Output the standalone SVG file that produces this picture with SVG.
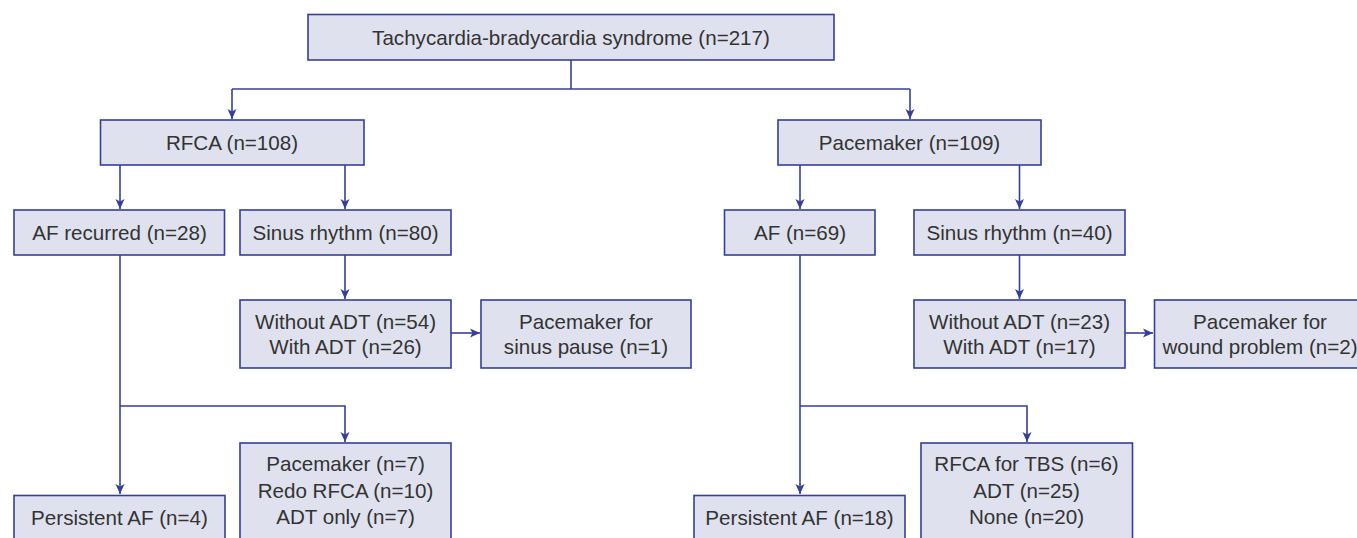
<svg xmlns="http://www.w3.org/2000/svg" width="1357" height="538" viewBox="0 0 1357 538">
<defs>
<marker id="ah" viewBox="0 0 10 10" refX="10" refY="5" markerWidth="10" markerHeight="10" markerUnits="userSpaceOnUse" orient="auto">
<path d="M0,0.5 L10,5 L0,9.5 L2.5,5 Z" fill="#363f98"/>
</marker>
</defs>
<style>
.box{fill:#dfe1ee;stroke:#363f98;stroke-width:1.6}
.t{font-family:"Liberation Sans",Arial,sans-serif;font-size:20.6px;fill:#333333;text-anchor:middle}
.c{fill:none;stroke:#363f98;stroke-width:1.6}
</style>
<rect width="1357" height="538" fill="#ffffff"/>
<g id="connectors">
<path class="c" d="M571,60 V89"/>
<path class="c" d="M232,89 H910"/>
<path class="c" d="M232,89 V119" marker-end="url(#ah)"/>
<path class="c" d="M910,89 V119" marker-end="url(#ah)"/>
<path class="c" d="M120,165 V209" marker-end="url(#ah)"/>
<path class="c" d="M345,165 V209" marker-end="url(#ah)"/>
<path class="c" d="M800,165 V209" marker-end="url(#ah)"/>
<path class="c" d="M1019.5,165 V209" marker-end="url(#ah)"/>
<path class="c" d="M345,255 V299" marker-end="url(#ah)"/>
<path class="c" d="M1019.5,255 V299" marker-end="url(#ah)"/>
<path class="c" d="M451,333 H480" marker-end="url(#ah)"/>
<path class="c" d="M1125,333 H1153" marker-end="url(#ah)"/>
<path class="c" d="M120,255 V494" marker-end="url(#ah)"/>
<path class="c" d="M120,406 H345 V442" marker-end="url(#ah)"/>
<path class="c" d="M800,255 V494" marker-end="url(#ah)"/>
<path class="c" d="M800,406 H1027 V442" marker-end="url(#ah)"/>
</g>
<g id="n-tbs">
<rect class="box" x="308" y="14.5" width="526" height="45.5"/>
<text class="t" x="571" y="44.5">Tachycardia-bradycardia syndrome (n=217)</text>
</g>
<g id="n-rfca">
<rect class="box" x="100.5" y="120" width="263.5" height="45"/>
<text class="t" x="232" y="149.5">RFCA (n=108)</text>
</g>
<g id="n-pacemaker">
<rect class="box" x="778" y="120" width="263" height="45"/>
<text class="t" x="909.5" y="149.5">Pacemaker (n=109)</text>
</g>
<g id="n-afrec">
<rect class="box" x="14" y="210" width="210.5" height="45"/>
<text class="t" x="119.5" y="239.5">AF recurred (n=28)</text>
</g>
<g id="n-sinus1">
<rect class="box" x="240" y="210" width="211" height="45"/>
<text class="t" x="345.5" y="239.5">Sinus rhythm (n=80)</text>
</g>
<g id="n-af69">
<rect class="box" x="724.5" y="210" width="150.5" height="45"/>
<text class="t" x="800" y="239.5">AF (n=69)</text>
</g>
<g id="n-sinus2">
<rect class="box" x="914" y="210" width="211" height="45"/>
<text class="t" x="1019.5" y="239.5">Sinus rhythm (n=40)</text>
</g>
<g id="n-adt1">
<rect class="box" x="240" y="300" width="211" height="68"/>
<text class="t" x="345.5" y="329">Without ADT (n=54)</text>
<text class="t" x="345.5" y="354">With ADT (n=26)</text>
</g>
<g id="n-pm-sinus">
<rect class="box" x="481" y="300" width="210" height="68"/>
<text class="t" x="586" y="329">Pacemaker for</text>
<text class="t" x="586" y="354">sinus pause (n=1)</text>
</g>
<g id="n-adt2">
<rect class="box" x="914" y="300" width="211" height="68"/>
<text class="t" x="1019.5" y="329">Without ADT (n=23)</text>
<text class="t" x="1019.5" y="354">With ADT (n=17)</text>
</g>
<g id="n-pm-wound">
<rect class="box" x="1154.5" y="300" width="212" height="68"/>
<text class="t" x="1260" y="329">Pacemaker for</text>
<text class="t" x="1260" y="354">wound problem (n=2)</text>
</g>
<g id="n-persist1">
<rect class="box" x="14" y="495.5" width="211" height="60"/>
<text class="t" x="119.5" y="525">Persistent AF (n=4)</text>
</g>
<g id="n-outcome1">
<rect class="box" x="240" y="443" width="211" height="110"/>
<text class="t" x="345.5" y="471">Pacemaker (n=7)</text>
<text class="t" x="345.5" y="498">Redo RFCA (n=10)</text>
<text class="t" x="345.5" y="524">ADT only (n=7)</text>
</g>
<g id="n-persist2">
<rect class="box" x="694" y="495.5" width="211" height="60"/>
<text class="t" x="799.5" y="525">Persistent AF (n=18)</text>
</g>
<g id="n-outcome2">
<rect class="box" x="921" y="443" width="211.5" height="110"/>
<text class="t" x="1026.5" y="471">RFCA for TBS (n=6)</text>
<text class="t" x="1026.5" y="498">ADT (n=25)</text>
<text class="t" x="1026.5" y="524">None (n=20)</text>
</g>
</svg>
